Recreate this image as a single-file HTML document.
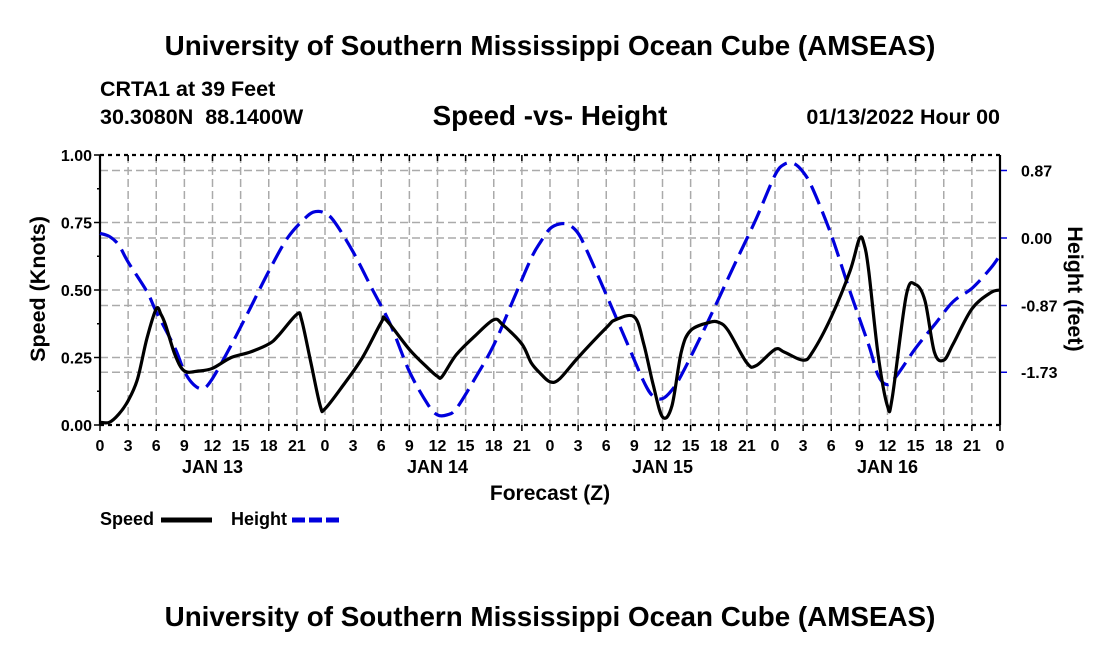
<!DOCTYPE html>
<html><head><meta charset="utf-8"><style>
body{margin:0;background:#fff;}
svg text{font-family:"Liberation Sans",Arial,sans-serif;font-weight:bold;fill:#000;white-space:pre;}
</style></head><body>
<svg id="chart" width="1100" height="650" viewBox="0 0 1100 650" xmlns="http://www.w3.org/2000/svg">
<rect width="1100" height="650" fill="#fff"/>
<text x="550" y="55" font-size="27.8" text-anchor="middle">University of Southern Mississippi Ocean Cube (AMSEAS)</text>
<text x="100" y="96" font-size="21.5">CRTA1 at 39 Feet</text>
<text x="100" y="124" font-size="21.5" xml:space="preserve">30.3080N  88.1400W</text>
<text x="550" y="125" font-size="27.8" text-anchor="middle">Speed -vs- Height</text>
<text x="1000" y="124" font-size="21.5" text-anchor="end">01/13/2022 Hour 00</text>
<g id="grid"></g>
<g id="axes"></g>
<g id="series"></g>
<text transform="translate(45,289) rotate(-90)" font-size="21.5" text-anchor="middle">Speed (Knots)</text>
<text transform="translate(1068,289) rotate(90)" font-size="21.5" text-anchor="middle">Height (feet)</text>
<text x="550" y="500" font-size="21" text-anchor="middle">Forecast (Z)</text>
<g>
<text x="100" y="525" font-size="18">Speed</text>
<line x1="161" y1="520" x2="212" y2="520" stroke="#000" stroke-width="5"/>
<text x="231" y="525" font-size="18">Height</text>
<line x1="292" y1="520" x2="342" y2="520" stroke="#0000dd" stroke-width="5" stroke-dasharray="13,4"/>
</g>
<text x="550" y="626" font-size="27.8" text-anchor="middle">University of Southern Mississippi Ocean Cube (AMSEAS)</text>
</svg>
<script>
const speedHours=[0,1,2,3,4,5,6,6.5,7,8,9,10.5,12,14,16,18,19,21,21.5,22.5,23.5,24,26,28,30,30.5,33,35,36,36.5,38,40,42,43,45,46,47,48,49,51,54,55,57,58,59,60,61,62,63,65,66,67,69,70,72,73,75,76,78,80,81,81.5,82,83,84,84.5,86,87,88,89,90,91,93,95,96];
const speedValues=[0.01,0.01,0.04,0.09,0.17,0.32,0.43,0.41,0.37,0.26,0.2,0.2,0.21,0.25,0.27,0.30,0.33,0.41,0.39,0.23,0.07,0.06,0.15,0.25,0.38,0.39,0.28,0.21,0.18,0.18,0.26,0.33,0.39,0.37,0.30,0.23,0.19,0.16,0.17,0.25,0.36,0.39,0.40,0.30,0.15,0.03,0.07,0.27,0.35,0.38,0.38,0.35,0.23,0.22,0.28,0.27,0.24,0.27,0.40,0.57,0.69,0.67,0.57,0.26,0.07,0.1,0.48,0.52,0.46,0.27,0.24,0.30,0.43,0.49,0.50];
const heightHours=[0,1,2,3,5,6,8,9,10,11,12,14,16,18,20,22,23,24,25,27,29,31,33,35,36,37,38,40,42,44,46,47,48,49,50,51,52,54,56,58,59,60,61,62,64,66,68,70,72,73,74,75,76,78,80,82,83,84,85,87,89,91,93,95,96];
const heightValues=[0.06,0.02,-0.09,-0.31,-0.69,-0.95,-1.42,-1.72,-1.89,-1.94,-1.81,-1.38,-0.91,-0.43,0.0,0.27,0.34,0.32,0.21,-0.18,-0.65,-1.12,-1.72,-2.15,-2.28,-2.28,-2.20,-1.81,-1.38,-0.82,-0.26,-0.05,0.12,0.18,0.17,0.06,-0.18,-0.73,-1.29,-1.85,-2.04,-2.07,-1.96,-1.77,-1.29,-0.78,-0.26,0.25,0.81,0.95,0.96,0.85,0.64,0.04,-0.69,-1.38,-1.77,-1.89,-1.77,-1.42,-1.12,-0.82,-0.65,-0.39,-0.22];
const xTickLabels=["0","3","6","9","12","15","18","21","0","3","6","9","12","15","18","21","0","3","6","9","12","15","18","21","0","3","6","9","12","15","18","21","0"];
const dayLabels=["JAN 13","JAN 14","JAN 15","JAN 16"];
const speedTicks=[0,0.25,0.5,0.75,1.0];
const heightTicks=[-1.73,-0.87,0.0,0.87];

const L=100,R=1000,T=155,B=425;
const x=h=>L+(R-L)*h/96;
const yS=v=>B-(B-T)*v;
const yH=v=>238-v*77.6;
const NS="http://www.w3.org/2000/svg";
function mk(tag,attrs,parent){const e=document.createElementNS(NS,tag);for(const k in attrs)e.setAttribute(k,attrs[k]);parent.appendChild(e);return e;}
const grid=document.getElementById('grid'),axes=document.getElementById('axes'),series=document.getElementById('series');

xTickLabels.forEach((lab,i)=>{
  const xx=x(i*3);
  if(i>0&&i<32){const g=mk('line',{x1:xx,y1:T,x2:xx,y2:B,stroke:'#aaa','stroke-width':1.5,'stroke-dasharray':'8,4'},grid);
  
  }
  const tk=mk('line',{x1:xx,y1:B,x2:xx,y2:B+6,stroke:'#000','stroke-width':1.5},axes);
  
  
  const tt=mk('line',{x1:xx,y1:T,x2:xx,y2:T+6,stroke:'#000','stroke-width':1.5},axes);
  
  
  const t=mk('text',{x:xx,y:451,'font-size':16,'text-anchor':'middle'},axes);t.textContent=lab;
  
  
});
dayLabels.forEach((d,i)=>{const t=mk('text',{x:x(12+24*i),y:473,'font-size':18,'text-anchor':'middle'},axes);t.textContent=d;
  
  });
speedTicks.forEach(v=>{const yy=yS(v);
  if(v>0&&v<1){const g=mk('line',{x1:L,y1:yy,x2:R,y2:yy,stroke:'#aaa','stroke-width':1.5,'stroke-dasharray':'8,4'},grid);
  
  }
  const tk=mk('line',{x1:L-6,y1:yy,x2:L,y2:yy,stroke:'#000','stroke-width':1.5},axes);
  
  
  const t=mk('text',{x:L-8,y:yy+6,'font-size':16,'text-anchor':'end'},axes);t.textContent=v.toFixed(2);
  
  });
for(let k=1;k<8;k+=2){const yy=yS(k/8);const m=mk('line',{x1:L-3,y1:yy,x2:L,y2:yy,stroke:'#000','stroke-width':1.5},axes);
  
  }
heightTicks.forEach(v=>{const yy=yH(v);
  const g=mk('line',{x1:L,y1:yy,x2:R,y2:yy,stroke:'#aaa','stroke-width':1.5,'stroke-dasharray':'8,4'},grid);
  
  
  const tk=mk('line',{x1:R,y1:yy,x2:R+7,y2:yy,stroke:'#0000dd','stroke-width':1.5},axes);
  
  
  const t=mk('text',{x:1021,y:yy+6,'font-size':16},axes);t.textContent=v.toFixed(2);
  
  });
[[L,T,R,T,'4,4','top-axis'],[L,B,R,B,'4,4','bottom-axis'],[L,T,L,B,'','left-axis'],[R,T,R,B,'','right-axis']].forEach(a=>{
  const l=mk('line',{x1:a[0],y1:a[1],x2:a[2],y2:a[3],stroke:'#000','stroke-width':2.2},axes);
  if(a[4])l.setAttribute('stroke-dasharray',a[4]);
  
  });

function path(hs,vs,yf){const p=hs.map((h,i)=>[x(h),yf(vs[i])]);let d='M'+p[0][0]+','+p[0][1];
  for(let i=0;i<p.length-1;i++){const p0=p[i-1]||p[i],p1=p[i],p2=p[i+1],p3=p[i+2]||p2;
    const c1=[p1[0]+(p2[0]-p0[0])/6,p1[1]+(p2[1]-p0[1])/6],c2=[p2[0]-(p3[0]-p1[0])/6,p2[1]-(p3[1]-p1[1])/6];
    d+=` C${c1[0]},${c1[1]} ${c2[0]},${c2[1]} ${p2[0]},${p2[1]}`;}
  return d;}
const hp=mk('path',{d:path(heightHours,heightValues,yH),fill:'none',stroke:'#0000dd','stroke-width':3.2,'stroke-dasharray':'20,8'},series);


const sp=mk('path',{d:path(speedHours,speedValues,yS),fill:'none',stroke:'#000','stroke-width':3.2,'stroke-linejoin':'round'},series);


</script>
</body></html>
